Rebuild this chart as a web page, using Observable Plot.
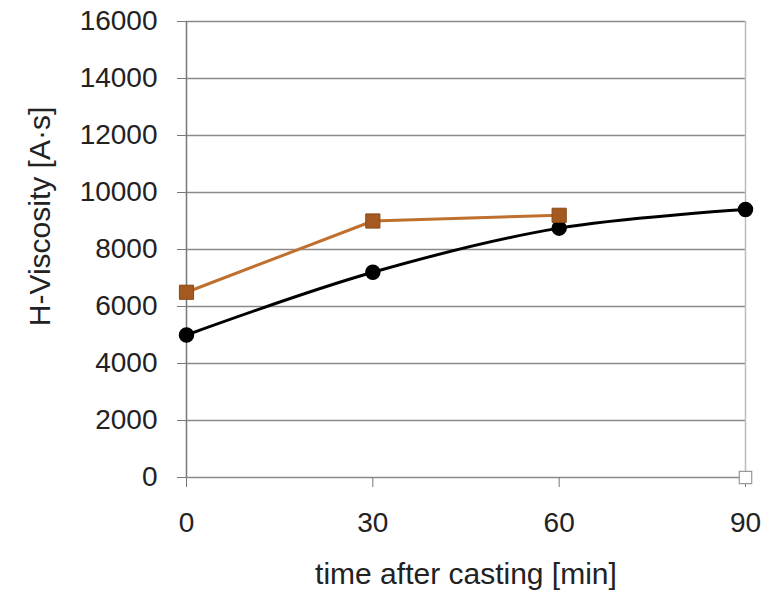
<!DOCTYPE html>
<html>
<head>
<meta charset="utf-8">
<script src="https://cdn.jsdelivr.net/npm/d3@7"></script>
<script src="https://cdn.jsdelivr.net/npm/@observablehq/plot@0.6"></script>
<style>
  body { margin: 0; background: #fff; }
  svg { font-family: "Liberation Sans", Arial, sans-serif; }
</style>
</head>
<body>
<div id="chart"></div>
<script>
const times = [0, 30, 60, 90];
const blackValues = [5000, 7200, 8750, 9400];
const orangeTimes = [0, 30, 60];
const orangeValues = [6500, 9000, 9200];
const emptyTimes = [90];
const emptyValues = [0];
const yTicks = [0, 2000, 4000, 6000, 8000, 10000, 12000, 14000, 16000];
const xTicks = [0, 30, 60, 90];
const xLabel = "time after casting [min]";
const yLabel = "H-Viscosity [A·s]";

const black = times.map((t, i) => ({t, v: blackValues[i]}));
const orange = orangeTimes.map((t, i) => ({t, v: orangeValues[i]}));
const empty = emptyTimes.map((t, i) => ({t, v: emptyValues[i]}));

const chart = Plot.plot({
  width: 773,
  height: 590,
  marginLeft: 186,
  marginRight: 28,
  marginTop: 21,
  marginBottom: 113,
  style: {fontFamily: "Liberation Sans, Arial, sans-serif", fontSize: "28px", color: "#222", background: "#fff"},
  x: {domain: [0, 90]},
  y: {domain: [0, 16000]},
  marks: [
    Plot.ruleY(yTicks, {x1: 0, x2: 90, stroke: "#8a8a8a", strokeWidth: 1.5}),
    Plot.ruleX([90], {y1: 0, y2: 16000, stroke: "#bbbbbb", strokeWidth: 1.5}),
    Plot.axisY(yTicks, {tickSize: 9, tickPadding: 20, stroke: "#777", label: null, fontSize: 28, fill: "#222", tickFormat: "d"}),
    Plot.axisX(xTicks, {tickSize: 10, tickPadding: 25, stroke: "#777", label: null, fontSize: 28, fill: "#222", tickFormat: "d"}),
    Plot.ruleX([0], {y1: 0, y2: 16000, stroke: "#777", strokeWidth: 1.5}),
    Plot.line(black, {x: "t", y: "v", stroke: "#000", strokeWidth: 3, curve: "catmull-rom"}),
    Plot.dot(black, {x: "t", y: "v", r: 7, fill: "#000", stroke: "#000"}),
    Plot.line(orange, {x: "t", y: "v", stroke: "#c0702e", strokeWidth: 3}),
    Plot.dot(orange, {x: "t", y: "v", symbol: "square", r: 8, fill: "#a3591f", stroke: "#8a4a18", strokeWidth: 1}),
    Plot.dot(empty, {x: "t", y: "v", symbol: "square", r: 7, fill: "#fff", stroke: "#999", strokeWidth: 1.2}),
    Plot.text([xLabel], {frameAnchor: "bottom", dy: 106, fontSize: 30, fill: "#222"}),
    Plot.text([yLabel], {frameAnchor: "left", textAnchor: "middle", lineAnchor: "middle", dx: -146, dy: -33, rotate: -90, fontSize: 30, fill: "#222"})
  ]
});
document.getElementById("chart").append(chart);
</script>
</body>
</html>
